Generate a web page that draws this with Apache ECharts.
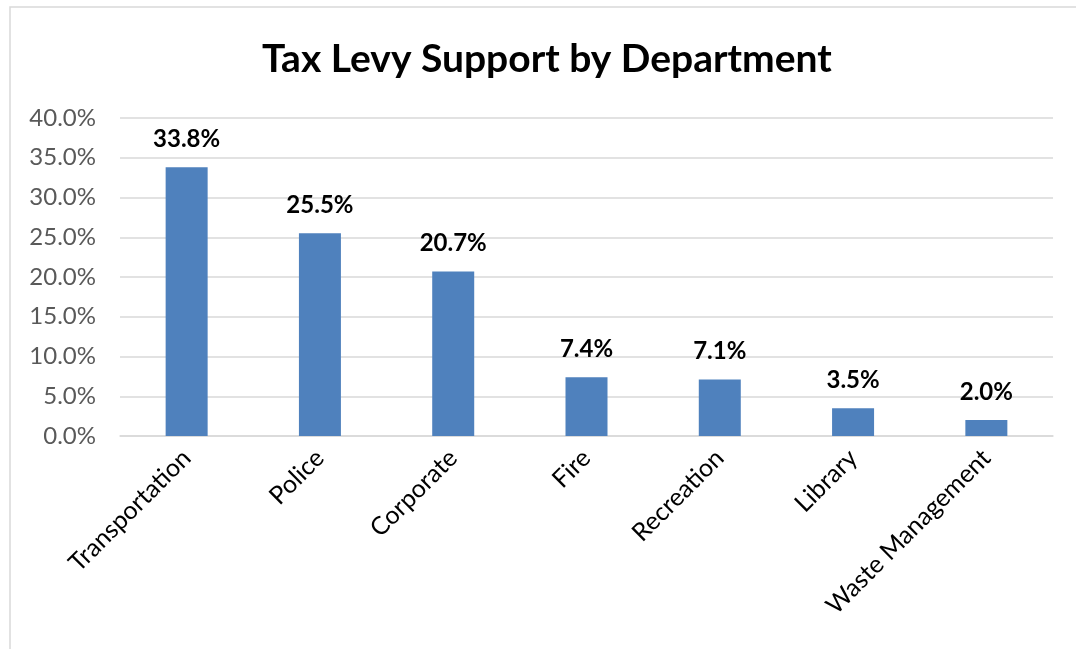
<!DOCTYPE html>
<html><head><meta charset="utf-8">
<script src="https://cdn.jsdelivr.net/npm/echarts@6/dist/echarts.min.js"></script>
<style>html,body{margin:0;padding:0;background:#fff;}#c{width:1076px;height:649px;}</style>
</head><body><div id="c"></div>
<script>
const categories = ['Transportation','Police','Corporate','Fire','Recreation','Library','Waste Management'];
const values = [33.8, 25.5, 20.7, 7.4, 7.1, 3.5, 2.0];
const yTicks = {min: 0, max: 40, interval: 5};
const titleText = 'Tax Levy Support by Department';

const chart = echarts.init(document.getElementById('c'));
chart.setOption({
  backgroundColor: '#fff',
  animation: false,
  graphic: [{
    type: 'rect', z: -10,
    shape: {x: 10, y: 7, width: 1100, height: 700},
    style: {fill: '#fff', stroke: '#d9d9d9', lineWidth: 1.5}
  }],
  title: {
    text: titleText, left: 257, top: 35,
    textStyle: {fontFamily: 'Lato', fontWeight: 'bold', fontSize: 39, color: '#000'}
  },
  grid: {left: 120, right: 23, top: 118, bottom: 213},
  xAxis: {
    type: 'category', data: categories,
    axisLine: {lineStyle: {color: '#d9d9d9', width: 1.5}},
    axisTick: {show: false},
    axisLabel: {rotate: 45, color: '#000', fontFamily: 'Lato', fontSize: 25, margin: 18, interval: 0}
  },
  yAxis: {
    type: 'value', min: yTicks.min, max: yTicks.max, interval: yTicks.interval,
    axisLine: {show: false}, axisTick: {show: false},
    splitLine: {lineStyle: {color: '#d9d9d9', width: 1.5}},
    axisLabel: {color: '#595959', fontFamily: 'Lato', fontSize: 24, margin: 24,
      formatter: v => v.toFixed(1) + '%'}
  },
  series: [{
    type: 'bar', data: values, barWidth: 42,
    itemStyle: {color: '#4f81bd'},
    label: {show: true, position: 'top', distance: 16, color: '#000', fontFamily: 'Lato',
      fontWeight: 'bold', fontSize: 24, formatter: p => p.value.toFixed(1) + '%'}
  }]
});
</script></body></html>
